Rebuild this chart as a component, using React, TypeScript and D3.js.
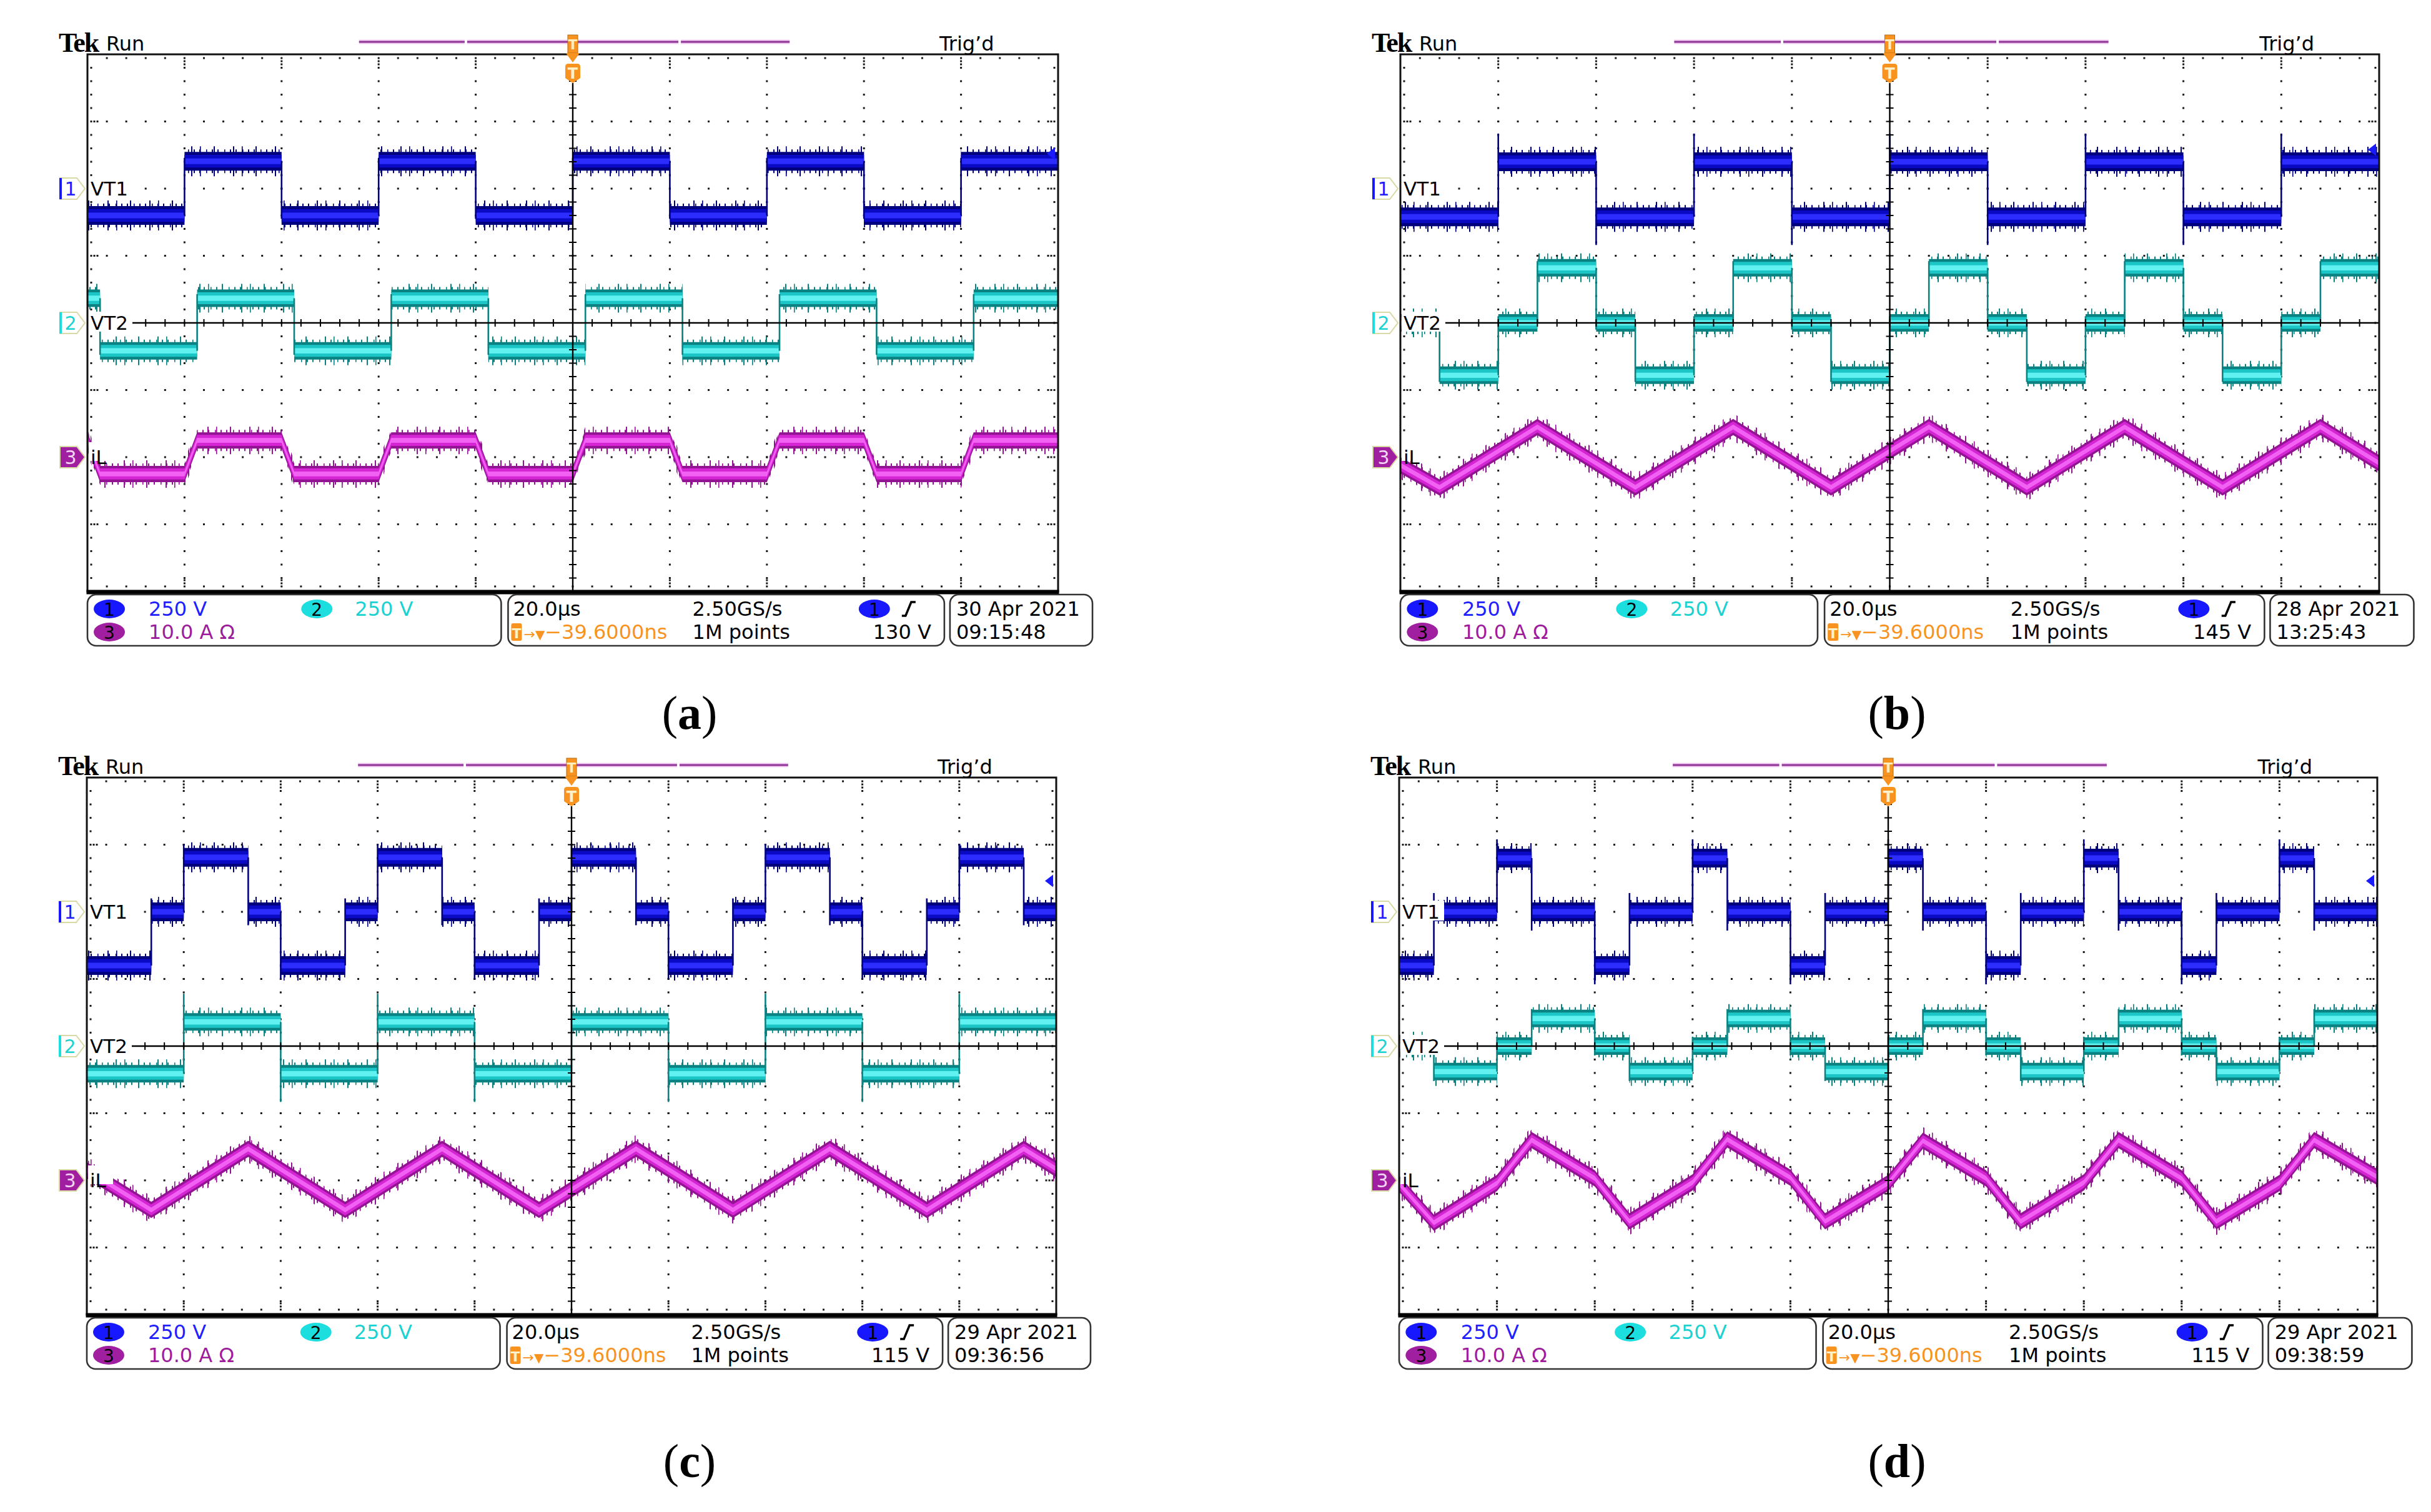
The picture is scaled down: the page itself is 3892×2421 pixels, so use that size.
import React from 'react';
import * as d3 from 'd3';

type Pt = [number, number];

// ---------- readouts, one entry per panel (a)..(d)
const panelLetters = ['a', 'b', 'c', 'd'];
const triggerLevels = [130, 145, 115, 115]; // V, channel 1 edge trigger
const dateLabels = ['30 Apr  2021', '28 Apr  2021', '29 Apr  2021', '29 Apr  2021'];
const clockLabels = ['09:15:48', '13:25:43', '09:36:56', '09:38:59'];

const channelNames = ['VT1', 'VT2', 'iL'];
const channelScaleLabels = ['250 V', '250 V', '10.0 A  Ω'];
const channelPerDiv = [250, 250, 10];
const channelPosition = [2, 0, -2]; // divisions above screen centre

const timebaseLabel = '20.0µs';
const sampleRateLabel = '2.50GS/s';
const recordLabel = '1M points';
const delayLabel = '−39.6000ns';

// ---------- traces (time in µs, trigger at 0)
// switched voltages: [segment start, level V], each level holds until the next start
const vt1A: Pt[] = [[-100, -100], [-80, 102], [-60, -100], [-40, 102], [-20, -100], [0, 102], [20, -100], [40, 102], [60, -100], [80, 102]];
const vt1B: Pt[] = [[-100, -105], [-80, 100], [-60, -105], [-40, 100], [-20, -105], [0, 100], [20, -105], [40, 100], [60, -105], [80, 100]];
const vt1C: Pt[] = [[-100, -200], [-86.7, 0], [-80, 203], [-66.7, 0], [-60, -200], [-46.7, 0], [-40, 203], [-26.7, 0], [-20, -200], [-6.7, 0], [0, 203], [13.3, 0], [20, -200], [33.3, 0], [40, 203], [53.3, 0], [60, -200], [73.3, 0], [80, 203], [93.3, 0]];
const vt1D: Pt[] = [[-100, -200], [-92.9, 0], [-80, 200], [-72.9, 0], [-60, -200], [-52.9, 0], [-40, 200], [-32.9, 0], [-20, -200], [-12.9, 0], [0, 200], [7.1, 0], [20, -200], [27.1, 0], [40, 200], [47.1, 0], [60, -200], [67.1, 0], [80, 200], [87.1, 0]];

const vt2A: Pt[] = [[-100, 92], [-97.4, -104], [-77.4, 92], [-57.4, -104], [-37.4, 92], [-17.4, -104], [2.6, 92], [22.6, -104], [42.6, 92], [62.6, -104], [82.6, 92]];
const vt2B: Pt[] = [[-100, 0], [-92, -195], [-80, 0], [-72, 205], [-60, 0], [-52, -195], [-40, 0], [-32, 205], [-20, 0], [-12, -195], [0, 0], [8, 205], [20, 0], [28, -195], [40, 0], [48, 205], [60, 0], [68, -195], [80, 0], [88, 205]];
const vt2C: Pt[] = [[-100, -103], [-80, 90], [-60, -103], [-40, 90], [-20, -103], [0, 90], [20, -103], [40, 90], [60, -103], [80, 90]];
const vt2D: Pt[] = [[-100, 0], [-92.9, -95], [-80, 0], [-72.9, 103], [-60, 0], [-52.9, -95], [-40, 0], [-32.9, 103], [-20, 0], [-12.9, -95], [0, 0], [7.1, 103], [20, 0], [27.1, -95], [40, 0], [47.1, 103], [60, 0], [67.1, -95], [80, 0], [87.1, 103]];

// inductor current: vertices [µs, A]
const ilA: Pt[] = [[-100, 2.5], [-97.4, -2.5], [-80, -2.5], [-77.4, 2.5], [-60, 2.5], [-57.4, -2.5], [-40, -2.5], [-37.4, 2.5], [-20, 2.5], [-17.4, -2.5], [0, -2.5], [2.6, 2.5], [20, 2.5], [22.6, -2.5], [40, -2.5], [42.6, 2.5], [60, 2.5], [62.6, -2.5], [80, -2.5], [82.6, 2.5], [100, 2.5]];
const ilB: Pt[] = [[-100, -1.2], [-92, -4.5], [-72, 4.5], [-52, -4.5], [-32, 4.5], [-12, -4.5], [8, 4.5], [28, -4.5], [48, 4.5], [68, -4.5], [88, 4.5], [100, -0.9]];
const ilC: Pt[] = [[-100, 1.5], [-86.7, -4.4], [-66.7, 4.7], [-46.7, -4.4], [-26.7, 4.7], [-6.7, -4.4], [13.3, 4.7], [33.3, -4.4], [53.3, 4.7], [73.3, -4.4], [93.3, 4.7], [100, 1.7]];
const ilD: Pt[] = [[-100, -0.5], [-92.9, -6.3], [-80, -0.4], [-72.9, 6.0], [-60, 0.3], [-52.9, -6.1], [-40, -0.3], [-32.9, 6.1], [-20, 0.4], [-12.9, -6.1], [0, -0.4], [7.1, 5.9], [20, 0.3], [27.1, -6.1], [40, -0.3], [47.1, 6.0], [60, 0.3], [67.1, -6.1], [80, -0.4], [87.1, 6.0], [100, 0.5]];

// switching overshoot beyond the new level, in divisions
const vt1Spike = [0.05, 0.42, 0.2, 0.28];
const vt2Spike = [0.06, 0.1, 0.42, 0.14];

const vt1Series = [vt1A, vt1B, vt1C, vt1D];
const vt2Series = [vt2A, vt2B, vt2C, vt2D];
const ilSeries = [ilA, ilB, ilC, ilD];

// ---------- layout
const gridX = [140, 2242, 139, 2240];
const gridY = [87, 87, 1245, 1245];
const gridW = [1554, 1567, 1552, 1566];
const GRID_H = 860;
const captionX = [1104, 3037, 1104, 3037];
const captionY = [1167, 1167, 2365, 2365];

const SANS = "'DejaVu Sans', Verdana, sans-serif";
const SERIF = "'Liberation Serif', 'Times New Roman', serif";
const ORANGE = '#f7931e';

const traceColors = [
  { dark: '#00007c', mid: '#0a0ac4', light: '#2c2cff' },
  { dark: '#0b8282', mid: '#1cc6c6', light: '#62f1f1' },
  { dark: '#921492', mid: '#d424d4', light: '#f262f2' },
];
const badgeColors = ['#1818ff', '#1cdede', '#a01ea0'];
const textColors = ['#2020ff', '#1ad2d2', '#9c1c9c'];
const bandHalf = [15, 14, 13];

const stepPoints = (seg: Pt[]): Pt[] => {
  const out: Pt[] = [];
  seg.forEach((p, j) => {
    const tEnd = j + 1 < seg.length ? seg[j + 1][0] : 100;
    out.push([p[0], p[1]], [tEnd, p[1]]);
  });
  return out;
};

function Panel({ i }: { i: number }) {
  const x0 = gridX[i];
  const y0 = gridY[i];
  const w = gridW[i];
  const h = GRID_H;
  const x1 = x0 + w;
  const y1 = y0 + h;
  const k = w / 1553;
  const ox = (o: number) => x0 + o * k;

  const x = d3.scaleLinear().domain([-100, 100]).range([x0, x1]);
  const yd = d3.scaleLinear().domain([-4, 4]).range([y1, y0]);
  const yCh = (ch: number, v: number) => yd(channelPosition[ch] + v / channelPerDiv[ch]);
  const cx = x(0);

  const raw = [vt1Series[i], vt2Series[i]];
  const series: Pt[][] = [stepPoints(vt1Series[i]), stepPoints(vt2Series[i]), ilSeries[i]];
  const spikes = [vt1Spike[i], vt2Spike[i]];

  const band = (ch: number, half: number) =>
    d3
      .area<Pt>()
      .x((d) => x(d[0]))
      .y0((d) => yCh(ch, d[1]) + half)
      .y1((d) => yCh(ch, d[1]) - half)(series[ch]) ?? '';

  const minorX = d3.range(-96, 97, 4);
  const minorY = d3.range(-3.8, 3.81, 0.2);
  const majorX = [-80, -60, -40, -20, 20, 40, 60, 80];
  const majorY = [-3, -2, -1, 1, 2, 3];

  const dots: Pt[] = [];
  majorX.forEach((t) => minorY.forEach((v) => dots.push([x(t), yd(v)])));
  majorY.forEach((v) => minorX.forEach((t) => dots.push([x(t), yd(v)])));
  minorX.forEach((t) => {
    dots.push([x(t), y0 + 6], [x(t), y1 - 8]);
  });
  minorY.forEach((v) => {
    dots.push([x0 + 6, yd(v)], [x1 - 6, yd(v)]);
  });
  majorX.forEach((t) => {
    dots.push([x(t), y0 + 11], [x(t), y0 + 16], [x(t), y1 - 13], [x(t), y1 - 18]);
  });
  majorY.forEach((v) => {
    dots.push([x0 + 11, yd(v)], [x0 + 16, yd(v)], [x1 - 11, yd(v)], [x1 - 16, yd(v)]);
  });

  const L1 = y1 + 39;
  const L2 = y1 + 76;
  const boxTop = y1 + 5;
  const trigY = yCh(0, triggerLevels[i]);

  return (
    <g>
      <defs>
        <clipPath id={`clip${i}`}>
          <rect x={x0} y={y0} width={w} height={h} />
        </clipPath>
      </defs>

      {/* graticule dots */}
      <g fill="#1a1a1a">
        {dots.map((d, j) => (
          <rect key={j} x={d[0] - 1.5} y={d[1] - 1.5} width={3} height={3} />
        ))}
      </g>

      {/* traces */}
      <g clipPath={`url(#clip${i})`}>
        {[0, 1, 2].map((ch) => {
          const c = traceColors[ch];
          const hw = bandHalf[ch];
          return (
            <g key={ch}>
              <path d={band(ch, hw + 9)} fill={`url(#fs${ch})`} />
              <path d={band(ch, hw + 4)} fill={`url(#fd${ch})`} />
              <path d={band(ch, hw)} fill={c.dark} />
              <path d={band(ch, hw * 0.68)} fill={c.mid} />
              <path d={band(ch, hw * 0.3)} fill={c.light} />
              {ch < 2 &&
                raw[ch].slice(1).map((p, j) => {
                  const prev = raw[ch][j][1];
                  const dir = Math.sign(p[1] - prev);
                  return (
                    <line
                      key={j}
                      x1={x(p[0])}
                      x2={x(p[0])}
                      y1={yCh(ch, prev)}
                      y2={yCh(ch, p[1] + dir * spikes[ch] * channelPerDiv[ch])}
                      stroke={c.dark}
                      strokeWidth={2.6}
                    />
                  );
                })}
            </g>
          );
        })}
      </g>

      {/* centre cross */}
      <g stroke="#000">
        <line x1={x0 + 60} x2={x1} y1={yd(0)} y2={yd(0)} strokeWidth={2.4} />
        <line x1={cx} x2={cx} y1={y0 + 46} y2={y1} strokeWidth={2.4} />
        {minorX.map((t) => (
          <line key={`hx${t}`} x1={x(t)} x2={x(t)} y1={yd(0) - 6} y2={yd(0) + 6} strokeWidth={2} />
        ))}
        {minorY.map((v) => (
          <line key={`vy${v}`} x1={cx - 6} x2={cx + 6} y1={yd(v)} y2={yd(v)} strokeWidth={2} />
        ))}
      </g>

      {/* frame */}
      <rect x={x0} y={y0} width={w} height={h} fill="none" stroke="#111" strokeWidth={3} />
      <line x1={x0 - 1.5} x2={x1 + 1.5} y1={y1 + 1} y2={y1 + 1} stroke="#000" strokeWidth={7} />

      {/* trigger level arrow */}
      <path d={`M${x1 - 18},${trigY} L${x1 - 5},${trigY - 10} L${x1 - 5},${trigY + 10} Z`} fill="#1a1aff" />

      {/* channel labels and markers */}
      {[0, 1, 2].map((ch) => {
        const ly = yd(channelPosition[ch]);
        const filled = ch === 2;
        return (
          <g key={ch}>
            {ch < 2 ? (
              <rect x={x0 + 2} y={ly - 18} width={70} height={32} fill="#fff" />
            ) : (
              <rect x={x0 + 2} y={ly - 24} width={40} height={30} fill="#fff" />
            )}
            <text x={x0 + 5} y={ly + 11} fontFamily={SANS} fontSize={31} fill="#000">
              {channelNames[ch]}
            </text>
            <path
              d={`M${x0 - 44},${ly - 17} L${x0 - 17},${ly - 17} L${x0 - 4},${ly} L${x0 - 17},${ly + 17} L${x0 - 44},${ly + 17} Z`}
              fill={filled ? badgeColors[2] : '#fff'}
              stroke="#d9d9a6"
              strokeWidth={2}
            />
            {!filled && (
              <line x1={x0 - 43} x2={x0 - 43} y1={ly - 17} y2={ly + 17} stroke={badgeColors[ch]} strokeWidth={4} />
            )}
            <text
              x={x0 - 27}
              y={ly + 11}
              textAnchor="middle"
              fontFamily={SANS}
              fontSize={30}
              fill={filled ? '#f4d4f4' : textColors[ch]}
            >
              {ch + 1}
            </text>
          </g>
        );
      })}

      {/* header */}
      <text x={x0 - 46} y={y0 - 4} fontFamily={SERIF} fontWeight="bold" fontSize={44} letterSpacing={-2} fill="#000">
        Tek
      </text>
      <text x={x0 + 30} y={y0 - 6} fontFamily={SANS} fontSize={32} fill="#000">
        Run
      </text>
      <text x={ox(1363)} y={y0 - 6} fontFamily={SANS} fontSize={32} fill="#000">
        Trig’d
      </text>
      <g>
        {[
          [-342, -173],
          [-169, -1],
          [1, 169],
          [173, 347],
        ].map(([a, b], j) => (
          <g key={j}>
            <line x1={cx + a * k} x2={cx + b * k} y1={y0 - 20} y2={y0 - 20} stroke="#f3c8f3" strokeWidth={7} />
            <line x1={cx + a * k} x2={cx + b * k} y1={y0 - 20} y2={y0 - 20} stroke="#8d3595" strokeWidth={3.2} />
          </g>
        ))}
      </g>

      {/* trigger position marker */}
      <rect x={cx - 8} y={y0 - 31} width={16} height={29} fill={ORANGE} stroke="#b56a10" strokeWidth={1} />
      <text x={cx} y={y0 - 8} textAnchor="middle" fontFamily={SANS} fontWeight="bold" fontSize={22} fill="#ffeec0">
        T
      </text>
      <path d={`M${cx - 11},${y0 - 2} L${cx + 11},${y0 - 2} L${cx},${y0 + 13} Z`} fill={ORANGE} />
      <path
        d={`M${cx - 12},${y0 + 20} Q${cx - 12},${y0 + 15} ${cx - 7},${y0 + 15} L${cx + 7},${y0 + 15} Q${cx + 12},${y0 + 15} ${cx + 12},${y0 + 20} L${cx + 12},${y0 + 38} L${cx},${y0 + 46} L${cx - 12},${y0 + 38} Z`}
        fill={ORANGE}
      />
      <text x={cx} y={y0 + 39} textAnchor="middle" fontFamily={SANS} fontWeight="bold" fontSize={24} fill="#fff2c8">
        T
      </text>

      {/* readout boxes */}
      <g fill="none" stroke="#333" strokeWidth={2.6}>
        <rect x={ox(0)} y={boxTop} width={662 * k} height={82} rx={14} />
        <rect x={ox(673)} y={boxTop} width={698 * k} height={82} rx={14} />
        <rect x={ox(1380)} y={boxTop} width={228 * k} height={82} rx={14} />
      </g>
      <g fontFamily={SANS} fontSize={32} style={{ whiteSpace: 'pre' }}>
        <ellipse cx={ox(35)} cy={L1 - 11} rx={25} ry={15} fill={badgeColors[0]} />
        <text x={ox(35)} y={L1} textAnchor="middle" fontSize={28} fill="#000">1</text>
        <text x={ox(98)} y={L1} fill={textColors[0]}>{channelScaleLabels[0]}</text>
        <ellipse cx={ox(367)} cy={L1 - 11} rx={25} ry={15} fill={badgeColors[1]} />
        <text x={ox(367)} y={L1} textAnchor="middle" fontSize={28} fill="#000">2</text>
        <text x={ox(428)} y={L1} fill={textColors[1]}>{channelScaleLabels[1]}</text>
        <ellipse cx={ox(35)} cy={L2 - 11} rx={25} ry={15} fill={badgeColors[2]} />
        <text x={ox(35)} y={L2} textAnchor="middle" fontSize={28} fill="#000">3</text>
        <text x={ox(98)} y={L2} fill={textColors[2]}>{channelScaleLabels[2]}</text>

        <text x={ox(681)} y={L1} fill="#000">{timebaseLabel}</text>
        <text x={ox(968)} y={L1} fill="#000">{sampleRateLabel}</text>
        <ellipse cx={ox(1259)} cy={L1 - 11} rx={25} ry={15} fill={badgeColors[0]} />
        <text x={ox(1259)} y={L1} textAnchor="middle" fontSize={28} fill="#000">1</text>
        <path
          d={`M${ox(1303)},${L1} L${ox(1309)},${L1} L${ox(1318)},${L1 - 22} L${ox(1325)},${L1 - 22}`}
          fill="none"
          stroke="#000"
          strokeWidth={3.5}
        />
        <rect x={ox(678)} y={L2 - 25} width={17} height={28} rx={3} fill={ORANGE} />
        <text x={ox(678) + 8.5} y={L2 - 1} textAnchor="middle" fontSize={22} fontWeight="bold" fill="#fff2c8">T</text>
        <text x={ox(698)} y={L2} fill={ORANGE}>
          <tspan fontSize={22}>→</tspan>
          <tspan fontSize={20}>▼</tspan>
          <tspan>{delayLabel}</tspan>
        </text>
        <text x={ox(968)} y={L2} fill="#000">{recordLabel}</text>
        <text x={ox(1350)} y={L2} textAnchor="end" fill="#000">{`${triggerLevels[i]} V`}</text>

        <text x={ox(1390)} y={L1} fill="#000">{dateLabels[i]}</text>
        <text x={ox(1390)} y={L2} fill="#000">{clockLabels[i]}</text>
      </g>

      {/* caption */}
      <text x={captionX[i]} y={captionY[i]} textAnchor="middle" fontFamily={SERIF} fontSize={76} fill="#000">
        (<tspan fontWeight="bold">{panelLetters[i]}</tspan>)
      </text>
    </g>
  );
}

export default function App() {
  return (
    <svg
      width={3892}
      height={2421}
      viewBox="0 0 3892 2421"
      style={{ position: 'absolute', left: 0, top: 0, background: '#fff' }}
    >
      <rect width={3892} height={2421} fill="#fff" />
      <defs>
        {traceColors.map((c, ch) => (
          <React.Fragment key={ch}>
            <pattern id={`fd${ch}`} width={29} height={8} patternUnits="userSpaceOnUse" x={ch * 7}>
              <rect x={0} width={2} height={8} fill={c.dark} />
              <rect x={11} width={1.6} height={8} fill={c.dark} />
              <rect x={20} width={2} height={8} fill={c.dark} />
            </pattern>
            <pattern id={`fs${ch}`} width={67} height={8} patternUnits="userSpaceOnUse" x={ch * 13}>
              <rect x={7} width={2} height={8} fill={c.dark} />
              <rect x={38} width={2} height={8} fill={c.dark} />
              <rect x={52} width={1.6} height={8} fill={c.dark} />
            </pattern>
          </React.Fragment>
        ))}
      </defs>
      {panelLetters.map((_, i) => (
        <Panel key={i} i={i} />
      ))}
    </svg>
  );
}
